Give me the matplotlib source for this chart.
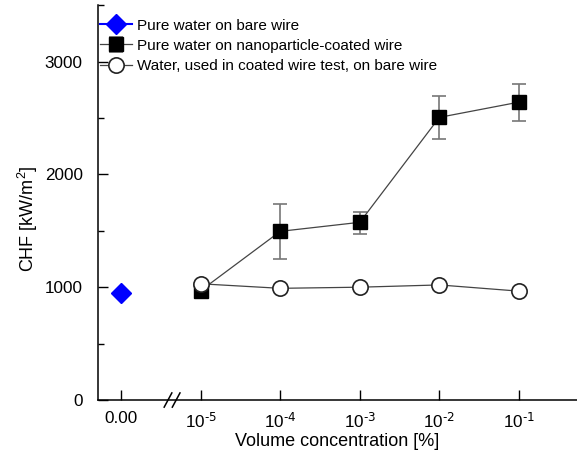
import matplotlib

matplotlib.use("Agg")
import matplotlib.pyplot as plt  # noqa: E402
from matplotlib.ticker import FixedLocator, MultipleLocator, NullLocator  # noqa: E402

plt.rcParams["font.family"] = ["Liberation Sans", "DejaVu Sans"]
plt.rcParams["mathtext.default"] = "regular"

# data
conc = [1e-5, 1e-4, 1e-3, 1e-2, 1e-1]
conc_labels = [r"$10^{\text{-5}}$", r"$10^{\text{-4}}$", r"$10^{\text{-3}}$",
               r"$10^{\text{-2}}$", r"$10^{\text{-1}}$"]
bare_chf = [950]                      # pure water, bare wire, 0 %
coated_chf = [970, 1495, 1575, 2505, 2640]
coated_err_lo = [0, 245, 105, 195, 170]
coated_err_hi = [0, 240, 90, 185, 165]
used_chf = [1030, 990, 1000, 1020, 965]

ZERO_POS = 1e-6  # where the "0.00" column sits on the log axis
LINE = "#444444"

fig = plt.figure(figsize=(5.77, 4.63), dpi=100)
ax = fig.add_axes([0.170, 0.136, 0.830, 0.853])
ax.set_xscale("log")

h1, = ax.plot([ZERO_POS], bare_chf, linestyle="-", color="blue", marker="D",
              markersize=10, label="Pure water on bare wire", zorder=3)
h2 = ax.errorbar(conc, coated_chf, yerr=[coated_err_lo, coated_err_hi], color=LINE,
                 linewidth=0.9, marker="s", markersize=10, markerfacecolor="black",
                 markeredgecolor="black", ecolor="#777777", elinewidth=1.2, capsize=5,
                 capthick=1.2, label="Pure water on nanoparticle-coated wire", zorder=3)
h3, = ax.plot(conc, used_chf, color=LINE, linewidth=0.9, marker="o", markersize=11,
              markerfacecolor="white", markeredgecolor="#222222", markeredgewidth=1.2,
              label="Water, used in coated wire test, on bare wire", zorder=4)

ax.set_xlim(10 ** -6.29, 10 ** -0.27)
ax.set_ylim(0, 3500)
ax.xaxis.set_major_locator(FixedLocator([ZERO_POS] + conc))
ax.xaxis.set_minor_locator(NullLocator())
ax.set_xticklabels(["0.00"] + conc_labels)
ax.yaxis.set_major_locator(MultipleLocator(1000))
ax.yaxis.set_minor_locator(MultipleLocator(500))
ax.tick_params(which="major", direction="in", length=7, width=1, labelsize=12.3)
ax.tick_params(axis="x", pad=8)
ax.tick_params(axis="y", pad=11)
ax.tick_params(which="minor", direction="in", length=4, width=1)
for side in ("top", "right"):
    ax.spines[side].set_visible(False)
for side in ("left", "bottom"):
    ax.spines[side].set_linewidth(1.1)

# axis break marks
for bx in (0.146, 0.163):
    ax.plot([bx - 0.008, bx + 0.008], [-0.018, 0.018], transform=ax.transAxes,
            color="black", linewidth=1.1, clip_on=False)

ax.set_xlabel("Volume concentration [%]", fontsize=13, labelpad=2)
ax.set_ylabel("CHF [kW/m$^2$]", fontsize=13)
ax.yaxis.set_label_coords(-0.121, 0.458)

ax.legend([h1, h2, h3], [h1.get_label(), h2.get_label(), h3.get_label()],
          loc="upper left", bbox_to_anchor=(-0.012, 0.985),
          frameon=False, fontsize=11, handlelength=2.1, handletextpad=0.3,
          labelspacing=0.4, borderaxespad=0.3, borderpad=0.2)

fig.savefig("out.png", dpi=100)
